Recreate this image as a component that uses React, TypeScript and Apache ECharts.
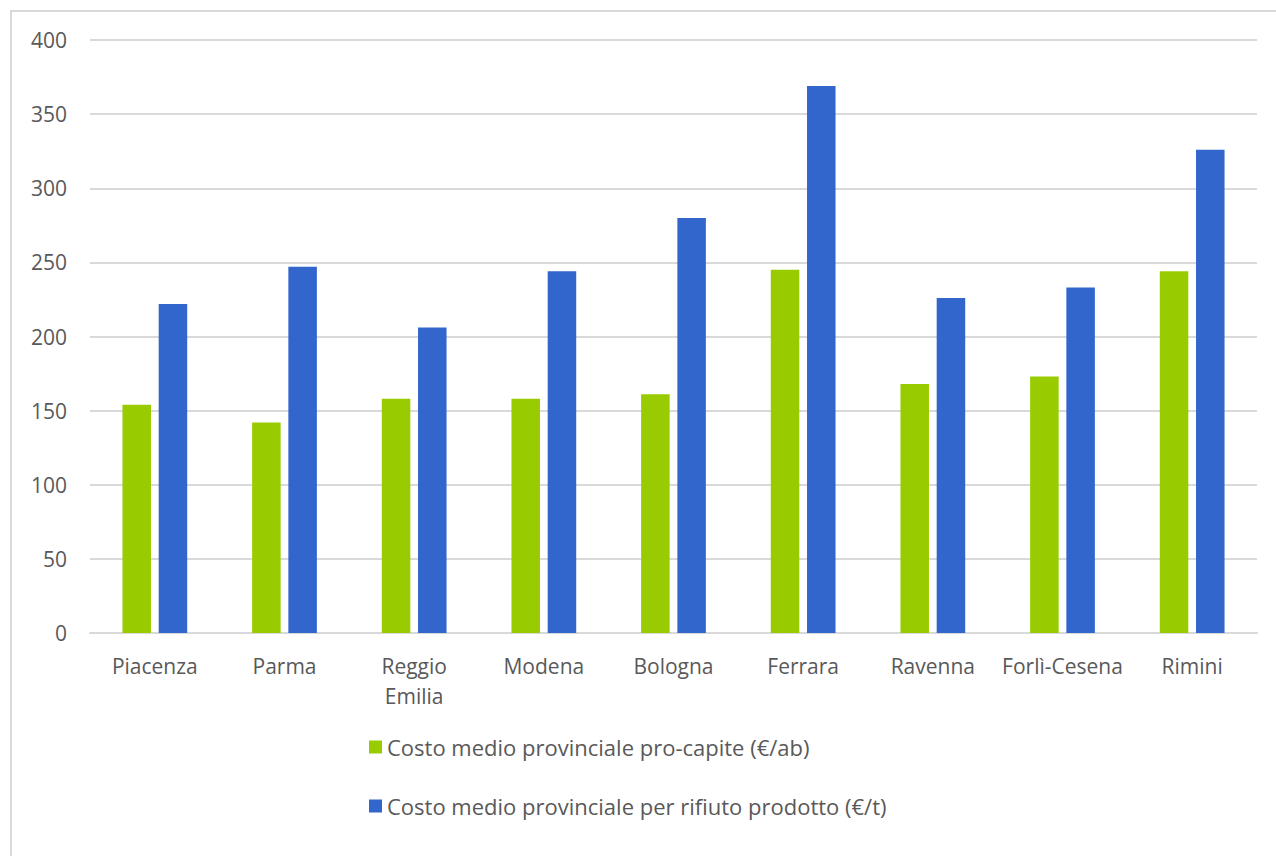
import React, { useEffect, useRef } from "react";
import * as echarts from "echarts";

const categories = ["Piacenza", "Parma", "Reggio\nEmilia", "Modena", "Bologna", "Ferrara", "Ravenna", "Forlì-Cesena", "Rimini"];
const proCapite = [154, 142, 158, 158, 161, 245, 168, 173, 244];
const perRifiuto = [222, 247, 206, 244, 280, 369, 226, 233, 326];
const seriesNames = ["Costo medio provinciale pro-capite (€/ab)", "Costo medio provinciale per rifiuto prodotto (€/t)"];

const FONT = "'Open Sans', 'Noto Sans', sans-serif";
const TEXT = "#595959";

export default function App() {
  const ref = useRef<HTMLDivElement>(null);
  useEffect(() => {
    if (!ref.current) return;
    const chart = echarts.init(ref.current, null, { renderer: "svg" });
    chart.setOption({
      animation: false,
      backgroundColor: "#ffffff",
      textStyle: { fontFamily: FONT },
      graphic: [
        {
          type: "rect",
          shape: { x: 11, y: 11, width: 1400, height: 1000 },
          style: { fill: "none", stroke: "#d9d9d9", lineWidth: 2 },
          silent: true,
        },
      ],
      grid: { left: 90, right: 19, top: 40, bottom: 223, containLabel: false },
      legend: {
        orient: "vertical",
        left: 364,
        top: 731,
        itemWidth: 13,
        itemHeight: 13,
        itemGap: 37,
        icon: "rect",
        textStyle: { fontSize: 22, color: TEXT, fontFamily: FONT },
        data: seriesNames,
      },
      xAxis: {
        type: "category",
        data: categories,
        axisLine: { show: true, lineStyle: { color: "#d9d9d9", width: 2 } },
        axisTick: { show: false },
        axisLabel: { color: TEXT, fontSize: 21, fontFamily: FONT, margin: 18, lineHeight: 30, interval: 0 },
      },
      yAxis: {
        type: "value",
        min: 0,
        max: 400,
        interval: 50,
        axisLine: { show: false },
        axisTick: { show: false },
        axisLabel: { color: TEXT, fontSize: 21, fontFamily: FONT, margin: 23 },
        splitLine: { lineStyle: { color: "#d9d9d9", width: 2 } },
      },
      series: [
        {
          name: seriesNames[0],
          type: "bar",
          data: proCapite,
          itemStyle: { color: "#99cc00" },
          barWidth: "22%",
          barGap: "27%",
        },
        {
          name: seriesNames[1],
          type: "bar",
          data: perRifiuto,
          itemStyle: { color: "#3366cc" },
          barWidth: "22%",
        },
      ],
    });
    return () => chart.dispose();
  }, []);
  return <div ref={ref} style={{ position: "fixed", left: 0, top: 0, width: 1276, height: 856 }} />;
}
